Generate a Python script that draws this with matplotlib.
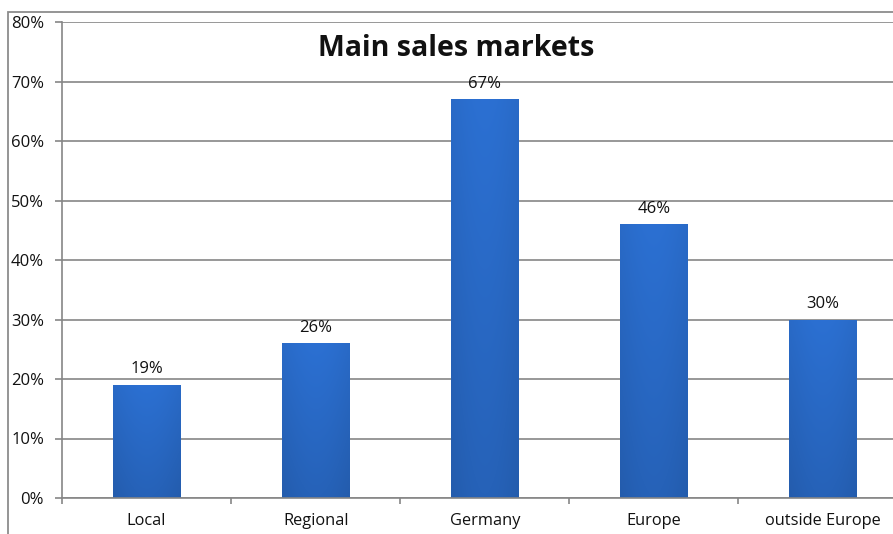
import matplotlib.pyplot as plt
import numpy as np
from matplotlib.patches import Rectangle
from matplotlib.ticker import FuncFormatter

plt.rcParams['font.family'] = ['Open Sans', 'DejaVu Sans']

markets = ['Local', 'Regional', 'Germany', 'Europe', 'outside Europe']
share = [19, 26, 67, 46, 30]  # percent of companies

W, H = 893, 534
fig = plt.figure(figsize=(W / 100, H / 100), dpi=100)

# frame of the chart object, running off the right and bottom edges
fig.patches.append(Rectangle((8 / W, -0.1), 1.2, (H - 12) / H + 0.1,
                             transform=fig.transFigure, fill=False,
                             edgecolor='#8c8c8c', linewidth=1.3))

ax = fig.add_axes([62 / W, 36 / H, (907.5 - 62) / W, (498 - 22) / H])
ax.set_xlim(-0.5, len(markets) - 0.5)
ax.set_ylim(0, 80)

gray = '#868686'
ax.set_yticks(np.arange(0, 81, 10))
ax.yaxis.set_major_formatter(FuncFormatter(lambda v, p: f'{v:.0f}%'))
ax.grid(axis='y', color=gray, linewidth=1.2)
ax.set_axisbelow(True)
for s in ['top', 'right']:
    ax.spines[s].set_visible(False)
for s in ['left', 'bottom']:
    ax.spines[s].set_color(gray)
    ax.spines[s].set_linewidth(1.2)

ax.set_xticks(np.arange(len(markets)))
ax.set_xticklabels(markets)
ax.set_xticks(np.arange(len(markets) + 1) - 0.5, minor=True)
ax.tick_params(axis='x', which='major', length=0, pad=11, labelsize=11.8,
               labelcolor='#111111')
ax.tick_params(axis='x', which='minor', length=4, color=gray, width=1.2)
ax.tick_params(axis='y', length=5, color=gray, width=1.2, pad=8,
               labelsize=12, labelcolor='#111111')

# blue bars: brighter at the top, darker toward the base
grad = np.linspace(0, 1, 64)
gx, gy = np.meshgrid(grad, grad)
shade = 0.92 + 0.06 * np.sin(np.pi * gx) + 0.14 * gy
base = np.array([0x26, 0x62, 0xb8]) / 255
img = np.clip(base[None, None, :] * shade[:, :, None] * 1.02, 0, 1)

bw = 0.4
bars = ax.bar(markets, share, width=bw, color='none', edgecolor='none')
for b, v in zip(bars, share):
    x0 = b.get_x()
    im = ax.imshow(img, extent=(x0, x0 + bw, 0, v), origin='lower',
                   aspect='auto', zorder=2, interpolation='bilinear')
    im.set_clip_path(b)
    ax.text(x0 + bw / 2, v + 1.3, f'{v}%', ha='center', va='bottom',
            fontsize=12, color='#111111')

ax.set_xlim(-0.5, len(markets) - 0.5)
ax.set_ylim(0, 80)

fig.text(456 / W, 1 - 48 / H, 'Main sales markets', ha='center', va='center',
         fontsize=20.5, fontweight='bold', color='#111111')

fig.savefig('out.png', dpi=100)
